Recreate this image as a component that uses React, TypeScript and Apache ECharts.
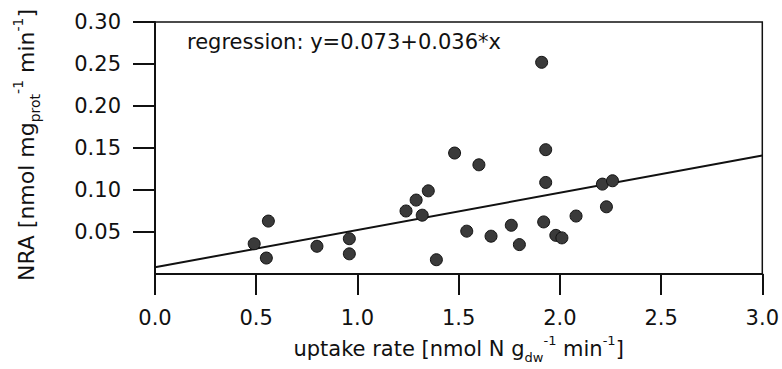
import React, { useEffect, useRef } from "react";
import * as echarts from "echarts";

const uptakeRate = [0.49, 0.56, 0.55, 0.80, 0.96, 0.96, 1.24, 1.29, 1.35, 1.32, 1.39, 1.48, 1.54, 1.91, 1.60, 1.93, 1.93, 2.21, 2.26, 2.23, 1.66, 1.76, 1.80, 1.92, 1.98, 2.01, 2.08];
const nra = [0.036, 0.063, 0.019, 0.033, 0.042, 0.024, 0.075, 0.088, 0.099, 0.070, 0.017, 0.144, 0.051, 0.252, 0.130, 0.148, 0.109, 0.107, 0.111, 0.080, 0.045, 0.058, 0.035, 0.062, 0.046, 0.043, 0.069];
const regressionX = [0, 3];
const regressionY = [0.008, 0.141];
const xTicks = [0, 0.5, 1, 1.5, 2, 2.5, 3];
const yTicks = [0.05, 0.1, 0.15, 0.2, 0.25, 0.3];
const regressionLabel = "regression: y=0.073+0.036*x";

const FONT = "DejaVu Sans";
const INK = "#111";

export default function App() {
  const ref = useRef<HTMLDivElement>(null);
  useEffect(() => {
    if (!ref.current) return;
    const chart = echarts.init(ref.current, null, { renderer: "svg" });
    const richX = {
      a: { fontSize: 21, fontFamily: FONT, color: INK, lineHeight: 30 },
      sub: { fontSize: 13, fontFamily: FONT, color: INK, verticalAlign: "bottom" },
      sup: { fontSize: 13, fontFamily: FONT, color: INK, verticalAlign: "top" },
    };
    const richY = {
      a: { fontSize: 22, fontFamily: FONT, color: INK, lineHeight: 31 },
      sub: { fontSize: 14, fontFamily: FONT, color: INK, verticalAlign: "bottom" },
      sup: { fontSize: 14, fontFamily: FONT, color: INK, verticalAlign: "top" },
    };
    chart.setOption({
      animation: false,
      backgroundColor: "#fff",
      grid: {
        left: 155,
        top: 22,
        right: 19,
        bottom: 94,
        show: true,
        borderColor: INK,
        borderWidth: 1.5,
        backgroundColor: "transparent",
      },
      xAxis: {
        type: "value",
        min: 0,
        max: 3,
        interval: 0.5,
        name: "{a|uptake rate [nmol N g}{sub|dw}{sup|-1}{a| min}{sup|-1}{a|]}",
        nameLocation: "middle",
        nameGap: 60,
        nameTextStyle: { rich: richX },
        axisLine: { show: true, lineStyle: { color: INK, width: 2 } },
        axisTick: { show: true, inside: false, length: 21, lineStyle: { color: INK, width: 2 }, customValues: xTicks },
        axisLabel: {
          margin: 33,
          fontSize: 21,
          fontFamily: FONT,
          color: INK,
          formatter: (v: number) => v.toFixed(1),
          customValues: xTicks,
        },
        splitLine: { show: false },
      },
      yAxis: {
        type: "value",
        min: 0,
        max: 0.3,
        interval: 0.05,
        name: "{a|NRA [nmol mg}{sub|prot}{sup|-1}{a| min}{sup|-1}{a|]}",
        nameLocation: "middle",
        nameRotate: 90,
        nameGap: 113,
        nameTextStyle: { rich: richY, padding: [0, 0, 0, 6] },
        axisLine: { show: true, lineStyle: { color: INK, width: 2 } },
        axisTick: { show: true, inside: false, length: 22, lineStyle: { color: INK, width: 2 }, customValues: yTicks },
        axisLabel: {
          margin: 34,
          fontSize: 21,
          fontFamily: FONT,
          color: INK,
          formatter: (v: number) => v.toFixed(2),
          customValues: yTicks,
        },
        splitLine: { show: false },
      },
      graphic: [
        {
          type: "text",
          left: 187,
          top: 31,
          style: { text: regressionLabel, fontSize: 21, fontFamily: FONT, fill: INK },
        },
      ],
      series: [
        {
          type: "line",
          data: regressionX.map((x, i) => [x, regressionY[i]]),
          symbol: "none",
          lineStyle: { color: INK, width: 2 },
          z: 2,
        },
        {
          type: "scatter",
          data: uptakeRate.map((x, i) => [x, nra[i]]),
          symbol: "circle",
          symbolSize: 12,
          itemStyle: { color: "#3a3a3a", borderColor: "#111", borderWidth: 1, opacity: 1 },
          z: 3,
        },
      ],
    });
    return () => chart.dispose();
  }, []);
  return <div ref={ref} style={{ position: "absolute", left: 0, top: 0, width: 782, height: 369 }} />;
}
